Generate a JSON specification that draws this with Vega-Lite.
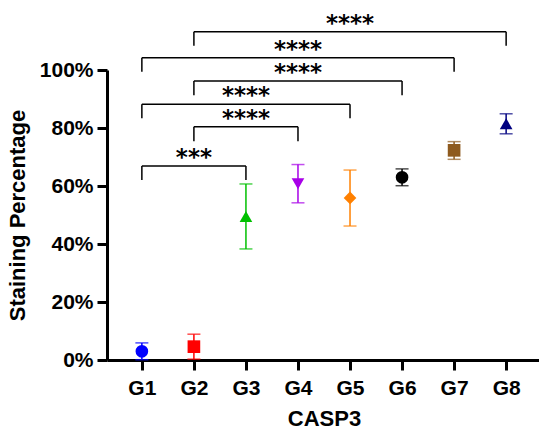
{
  "$schema": "https://vega.github.io/schema/vega-lite/v6.json",
  "width": 434,
  "height": 290,
  "autosize": {"type": "none"},
  "padding": {"left": 107, "top": 70, "right": 0, "bottom": 70},
  "background": "white",
  "config": {
    "view": {"stroke": null},
    "axis": {
      "domainColor": "black", "domainWidth": 3, "tickColor": "black", "tickWidth": 3, "tickSize": 10,
      "labelFont": "Liberation Sans", "labelFontSize": 21, "labelFontWeight": "bold", "labelColor": "black",
      "titleFont": "Liberation Sans", "titleFontSize": 22, "titleFontWeight": "bold", "titleColor": "black",
      "grid": false
    },
    "axisX": {"labelAngle": 0, "labelPadding": 7, "titlePadding": 10},
    "axisY": {"labelPadding": 4, "titlePadding": 10}
  },
  "datasets": {
    "points": [
      {"group": "G1", "mean": 3.0, "lo": 0.1, "hi": 5.9},
      {"group": "G2", "mean": 4.6, "lo": 0.3, "hi": 8.9},
      {"group": "G3", "mean": 49.5, "lo": 38.3, "hi": 60.7},
      {"group": "G4", "mean": 60.8, "lo": 54.2, "hi": 67.4},
      {"group": "G5", "mean": 55.9, "lo": 46.2, "hi": 65.5},
      {"group": "G6", "mean": 63.0, "lo": 60.1, "hi": 65.9},
      {"group": "G7", "mean": 72.3, "lo": 69.2, "hi": 75.3},
      {"group": "G8", "mean": 81.5, "lo": 78.0, "hi": 84.9}
    ],
    "brackets": [
      {"from": "G1", "to": "G3", "mid": "G2", "h": 66.9, "bot": 62.1, "label": "***"},
      {"from": "G2", "to": "G4", "mid": "G3", "h": 80.4, "bot": 75.4, "label": "****"},
      {"from": "G1", "to": "G5", "mid": "G3", "h": 88.2, "bot": 83.4, "label": "****"},
      {"from": "G2", "to": "G6", "mid": "G4", "h": 96.2, "bot": 91.3, "label": "****"},
      {"from": "G1", "to": "G7", "mid": "G4", "h": 104.2, "bot": 99.4, "label": "****"},
      {"from": "G2", "to": "G8", "mid": "G5", "h": 113.2, "bot": 108.4, "label": "****"}
    ]
  },
  "layer": [
    {
      "data": {"name": "points"},
      "mark": {"type": "rule", "strokeWidth": 1.5},
      "encoding": {
        "x": {"field": "group", "type": "nominal", "title": "CASP3",
              "scale": {"type": "point", "domain": ["G1","G2","G3","G4","G5","G6","G7","G8"], "padding": 0.67}},
        "y": {"field": "lo", "type": "quantitative", "title": "Staining Percentage",
              "scale": {"domain": [0, 100], "nice": false},
              "axis": {"values": [0, 20, 40, 60, 80, 100], "labelExpr": "datum.value + '%'"}},
        "y2": {"field": "hi"},
        "color": {"field": "group", "type": "nominal", "legend": null,
                  "scale": {"domain": ["G1","G2","G3","G4","G5","G6","G7","G8"],
                            "range": ["#0000ff","#ff0000","#00c000","#a800e8","#ff8000","#000000","#8e5a1e","#000080"]}}
      }
    },
    {
      "data": {"name": "points"},
      "mark": {"type": "tick", "thickness": 1.5, "size": 13},
      "encoding": {
        "x": {"field": "group", "type": "nominal", "title": "CASP3"},
        "y": {"field": "lo", "type": "quantitative", "title": "Staining Percentage"},
        "color": {"field": "group", "type": "nominal", "legend": null}
      }
    },
    {
      "data": {"name": "points"},
      "mark": {"type": "tick", "thickness": 1.5, "size": 13},
      "encoding": {
        "x": {"field": "group", "type": "nominal", "title": "CASP3"},
        "y": {"field": "hi", "type": "quantitative", "title": "Staining Percentage"},
        "color": {"field": "group", "type": "nominal", "legend": null}
      }
    },
    {
      "data": {"name": "points"},
      "mark": {"type": "point", "filled": true, "opacity": 1},
      "encoding": {
        "x": {"field": "group", "type": "nominal", "title": "CASP3"},
        "y": {"field": "mean", "type": "quantitative", "title": "Staining Percentage"},
        "color": {"field": "group", "type": "nominal", "legend": null},
        "shape": {"field": "group", "type": "nominal", "legend": null,
                  "scale": {"domain": ["G1","G2","G3","G4","G5","G6","G7","G8"],
                            "range": ["circle","square","triangle-up","triangle-down","diamond","circle","square","triangle-up"]}},
        "size": {"field": "group", "type": "nominal", "legend": null,
                 "scale": {"domain": ["G1","G2","G3","G4","G5","G6","G7","G8"],
                           "range": [160, 160, 190, 190, 180, 190, 220, 200]}}
      }
    },
    {
      "data": {"name": "brackets"},
      "mark": {"type": "rule", "strokeWidth": 1.5, "color": "black"},
      "encoding": {
        "x": {"field": "from", "type": "nominal", "title": "CASP3"},
        "x2": {"field": "to"},
        "y": {"field": "h", "type": "quantitative", "title": "Staining Percentage"}
      }
    },
    {
      "data": {"name": "brackets"},
      "mark": {"type": "rule", "strokeWidth": 1.5, "color": "black"},
      "encoding": {
        "x": {"field": "from", "type": "nominal", "title": "CASP3"},
        "y": {"field": "h", "type": "quantitative", "title": "Staining Percentage"},
        "y2": {"field": "bot"}
      }
    },
    {
      "data": {"name": "brackets"},
      "mark": {"type": "rule", "strokeWidth": 1.5, "color": "black"},
      "encoding": {
        "x": {"field": "to", "type": "nominal", "title": "CASP3"},
        "y": {"field": "h", "type": "quantitative", "title": "Staining Percentage"},
        "y2": {"field": "bot"}
      }
    },
    {
      "data": {"name": "brackets"},
      "mark": {"type": "text", "font": "DejaVu Sans", "fontWeight": "bold", "fontSize": 23, "baseline": "alphabetic", "align": "center", "dy": -1, "color": "black"},
      "encoding": {
        "x": {"field": "mid", "type": "nominal", "title": "CASP3"},
        "y": {"field": "h", "type": "quantitative", "title": "Staining Percentage"},
        "text": {"field": "label"}
      }
    }
  ]
}
